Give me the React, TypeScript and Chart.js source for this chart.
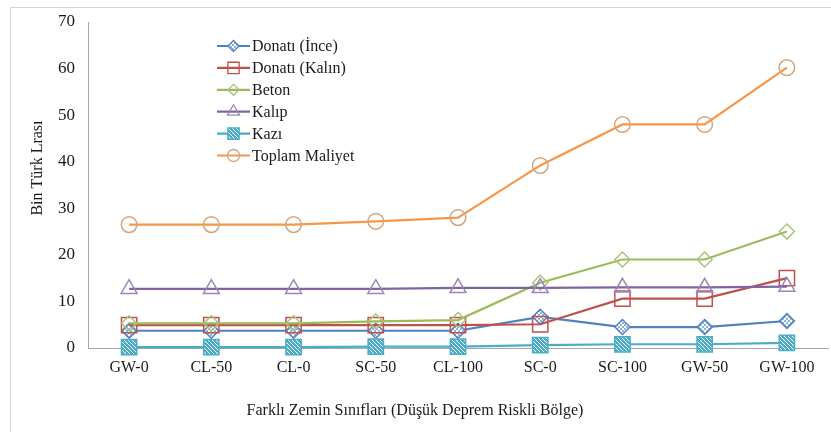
import React, { useEffect, useRef } from "react";
import { Chart, registerables } from "chart.js";

Chart.register(...registerables);

const categories = ["GW-0", "CL-50", "CL-0", "SC-50", "CL-100", "SC-0", "SC-100", "GW-50", "GW-100"];
const donatiInce = [3.7, 3.7, 3.7, 3.7, 3.7, 6.7, 4.5, 4.5, 5.8];
const donatiKalin = [4.9, 4.9, 4.9, 4.9, 4.9, 5.1, 10.6, 10.6, 15.0];
const beton = [5.3, 5.3, 5.3, 5.7, 6.0, 14.0, 19.0, 19.0, 25.0];
const kalip = [12.7, 12.7, 12.7, 12.7, 12.9, 12.9, 13.0, 13.0, 13.2];
const kazi = [0.2, 0.2, 0.2, 0.3, 0.3, 0.6, 0.8, 0.8, 1.1];
const toplam = [26.5, 26.5, 26.5, 27.2, 28.0, 39.2, 48.0, 48.0, 60.2];
const yTicks = [0, 10, 20, 30, 40, 50, 60, 70];

const seriesNames = ["Donatı (İnce)", "Donatı (Kalın)", "Beton", "Kalıp", "Kazı", "Toplam Maliyet"];
const yTitle = "Bin Türk Lrası";
const xTitle = "Farklı Zemin Sınıfları (Düşük Deprem Riskli Bölge)";

const FONT = "'Liberation Serif', 'Times New Roman', serif";

function makePattern(kind: string): CanvasPattern | string {
  const c = document.createElement("canvas");
  c.width = 4;
  c.height = 4;
  const g = c.getContext("2d");
  if (!g) return "#ffffff";
  if (kind === "kazi") {
    g.fillStyle = "#4bacc6";
    g.fillRect(0, 0, 4, 4);
    g.fillStyle = "#ffffff";
    for (let i = 0; i < 4; i++) g.fillRect(i, i, 1, 1);
  } else {
    g.fillStyle = "#ffffff";
    g.fillRect(0, 0, 4, 4);
    g.fillStyle = "#8fb4dc";
    g.fillRect(0, 0, 2, 2);
    g.fillRect(2, 2, 2, 2);
  }
  const p = g.createPattern(c, "repeat");
  return p || "#ffffff";
}

function drawMarker(ctx: CanvasRenderingContext2D, style: string, x: number, y: number, r: number, fill: any, stroke: string, lw: number) {
  ctx.save();
  ctx.beginPath();
  if (style === "circle") {
    ctx.arc(x, y, r, 0, Math.PI * 2);
  } else if (style === "rect") {
    const s = Math.SQRT1_2 * r;
    ctx.rect(x - s, y - s, 2 * s, 2 * s);
  } else if (style === "rectRot") {
    ctx.moveTo(x, y - r);
    ctx.lineTo(x + r, y);
    ctx.lineTo(x, y + r);
    ctx.lineTo(x - r, y);
    ctx.closePath();
  } else if (style === "triangle") {
    for (let i = 0; i < 3; i++) {
      const a = (i * 2 * Math.PI) / 3;
      const px = x + Math.sin(a) * r;
      const py = y - Math.cos(a) * r;
      if (i === 0) ctx.moveTo(px, py);
      else ctx.lineTo(px, py);
    }
    ctx.closePath();
  }
  if (fill && fill !== "transparent") {
    ctx.fillStyle = fill;
    ctx.fill();
  }
  ctx.strokeStyle = stroke;
  ctx.lineWidth = lw;
  ctx.stroke();
  ctx.restore();
}

export default function App() {
  const ref = useRef<HTMLCanvasElement | null>(null);

  useEffect(() => {
    const canvas = ref.current;
    if (!canvas) return;
    const incePat = makePattern("ince");
    const kaziPat = makePattern("kazi");

    const specs = [
      { data: donatiInce, line: "#4f81bd", mk: "#4f81bd", style: "rectRot", r: 7.5, fill: incePat, lr: 5.5 },
      { data: donatiKalin, line: "#c0504d", mk: "#c0504d", style: "rect", r: 10.8, fill: "transparent", lr: 8 },
      { data: beton, line: "#9bbb59", mk: "#a9c47a", style: "rectRot", r: 7.5, fill: "transparent", lr: 5.5 },
      { data: kalip, line: "#8064a2", mk: "#9a86b9", style: "triangle", r: 9.2, fill: "transparent", lr: 7 },
      { data: kazi, line: "#4bacc6", mk: "#4bacc6", style: "rect", r: 10.8, fill: kaziPat, lr: 8 },
      { data: toplam, line: "#f79646", mk: "#d2a57e", style: "circle", r: 7.8, fill: "transparent", lr: 6 },
    ];

    const overlay = {
      id: "overlay",
      afterDraw(chart: any) {
        const ctx: CanvasRenderingContext2D = chart.ctx;
        ctx.save();
        // legend
        const x0 = 217;
        const x1 = 250;
        const yStart = 46;
        const step = 21.9;
        ctx.font = `16px ${FONT}`;
        ctx.textBaseline = "middle";
        ctx.textAlign = "left";
        specs.forEach((s, i) => {
          const y = yStart + i * step;
          ctx.beginPath();
          ctx.moveTo(x0, y);
          ctx.lineTo(x1, y);
          ctx.strokeStyle = s.line;
          ctx.lineWidth = 2.2;
          ctx.stroke();
          drawMarker(ctx, s.style, (x0 + x1) / 2, y, s.lr, s.fill, s.mk, 1.3);
          ctx.fillStyle = "#1a1a1a";
          ctx.fillText(seriesNames[i], x1 + 2, y + 1);
        });
        // axis titles
        ctx.fillStyle = "#1a1a1a";
        ctx.font = `16px ${FONT}`;
        ctx.textAlign = "center";
        ctx.textBaseline = "middle";
        ctx.fillText(xTitle, 415, 411);
        ctx.translate(38, 168);
        ctx.rotate(-Math.PI / 2);
        ctx.fillText(yTitle, 0, 0);
        ctx.restore();
      },
    };

    const chart = new Chart(canvas, {
      type: "line",
      data: {
        labels: categories,
        datasets: specs.map((s, i) => ({
          label: seriesNames[i],
          data: s.data,
          borderColor: s.line,
          backgroundColor: s.line,
          borderWidth: 2.2,
          pointStyle: s.style as any,
          pointRadius: s.r,
          pointHoverRadius: s.r,
          pointBorderColor: s.mk,
          pointBackgroundColor: s.fill as any,
          pointBorderWidth: 1.5,
          tension: 0,
          fill: false,
          clip: false as any,
          order: 6 - i,
        })),
      },
      options: {
        responsive: false,
        animation: false,
        devicePixelRatio: 1,
        layout: { autoPadding: false, padding: { left: 0, right: 3, top: 22, bottom: 0 } },
        plugins: {
          legend: { display: false },
          tooltip: { enabled: false },
          title: { display: false },
        },
        scales: {
          x: {
            type: "category",
            offset: true,
            grid: { display: false, drawTicks: false },
            border: { display: true, color: "#a6a6a6", width: 1 },
            ticks: {
              padding: 10,
              color: "#1a1a1a",
              font: { family: FONT, size: 16 },
              maxRotation: 0,
              autoSkip: false,
            },
            afterFit(scale: any) {
              scale.height = 84;
              scale.paddingLeft = 0;
              scale.paddingRight = 0;
            },
          },
          y: {
            type: "linear",
            min: 0,
            max: 70,
            afterBuildTicks(scale: any) {
              scale.ticks = yTicks.map((v) => ({ value: v }));
            },
            grid: { display: false, drawTicks: false },
            border: { display: true, color: "#a6a6a6", width: 1 },
            ticks: {
              padding: 13,
              color: "#1a1a1a",
              font: { family: FONT, size: 17 },
            },
            afterFit(scale: any) {
              scale.width = 88;
              scale.paddingTop = 0;
              scale.paddingBottom = 0;
            },
          },
        },
      },
      plugins: [overlay],
    });

    return () => chart.destroy();
  }, []);

  return (
    <div style={{ position: "fixed", left: 0, top: 0, width: 831, height: 432, overflow: "hidden", background: "#ffffff" }}>
      <div
        style={{
          position: "absolute",
          left: 10,
          top: 7,
          width: 821,
          height: 425,
          boxSizing: "border-box",
          borderTop: "1px solid #d4d4d4",
          borderLeft: "1px solid #d4d4d4",
        }}
      />
      <canvas ref={ref} width={831} height={432} style={{ position: "absolute", left: 0, top: 0, width: 831, height: 432 }} />
    </div>
  );
}
